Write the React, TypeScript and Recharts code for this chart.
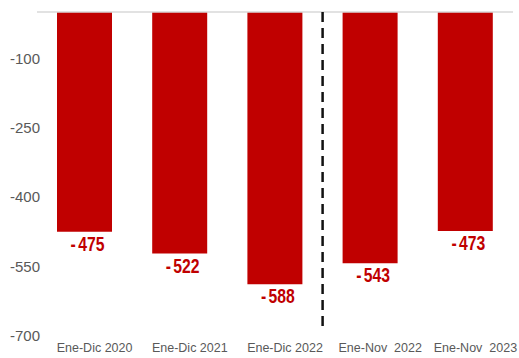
import { BarChart, Bar, XAxis, YAxis, LabelList, ReferenceLine } from 'recharts';

const categories = ['Ene-Dic 2020', 'Ene-Dic 2021', 'Ene-Dic 2022', 'Ene-Nov  2022', 'Ene-Nov  2023'];
const values = [-475, -522, -588, -543, -473];
const yTicks = [-100, -250, -400, -550, -700];
const dividerAt = categories[3];

const data = categories.map((name, i) => ({ name, value: values[i] }));

const XTick = ({ x, y, payload }: any) => (
	<text x={x + 10} y={y} dy={16} textAnchor="middle" fill="#595959" fontSize={12.5}
		fontFamily="'Liberation Sans', Arial, sans-serif" style={{ whiteSpace: 'pre' }}>
		{payload.value}
	</text>
);

// condensed bold label, like Arial Narrow
const ValueLabel = ({ x, y, width, height, value }: any) => {
	const bottom = Math.max(y, y + height);
	const cx = x + width / 2 + 3;
	return (
		<text transform={`translate(${cx},${bottom + 19}) scale(0.75,1)`} textAnchor="middle" fill="#C00000"
			fontSize={21} fontWeight="bold" fontFamily="'Liberation Sans', Arial, sans-serif">
			<tspan>-</tspan>
			<tspan dx={3}>{Math.abs(value)}</tspan>
		</text>
	);
};

export default function App() {
	return (
		<div style={{ position: 'absolute', left: 0, top: 0, background: '#fff' }}>
			<BarChart width={519} height={358} data={data} margin={{ top: 12, right: 6, bottom: 0, left: 0 }}>
				<XAxis dataKey="name" axisLine={false} tickLine={false} tickSize={0} tickMargin={0} height={22}
					tick={<XTick />} interval={0} />
				<YAxis domain={[-700, 0]} ticks={yTicks} axisLine={false} tickLine={false} tickSize={0}
					tickMargin={-3} width={37} interval={0}
					tick={{ fill: '#595959', fontSize: 15, fontFamily: "'Liberation Sans', Arial, sans-serif" }} />
				<ReferenceLine y={0} stroke="#D9D9D9" strokeWidth={1.5} />
				<Bar dataKey="value" fill="#C00000" barSize={55} isAnimationActive={false}>
					<LabelList dataKey="value" content={<ValueLabel />} />
				</Bar>
				<ReferenceLine position="start" segment={[{ x: dividerAt, y: 0 }, { x: dividerAt, y: -683 }]}
					stroke="#111" strokeWidth={2.5} strokeDasharray="10 6" />
			</BarChart>
		</div>
	);
}
